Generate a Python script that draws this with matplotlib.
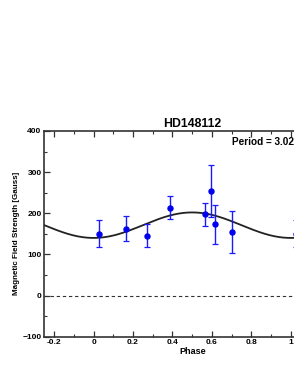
import numpy as np
import matplotlib
matplotlib.use("Agg")
import matplotlib.pyplot as plt
from matplotlib.ticker import MultipleLocator

plt.rcParams['font.family'] = ['Liberation Sans', 'DejaVu Sans']
plt.rcParams['font.weight'] = 'bold'

# Data
phase = [0.027, 0.164, 0.273, 0.386, 0.567, 0.597, 0.614, 0.700]
field = [149, 162, 144, 213, 197, 254, 173, 155]
err_up = [34, 31, 29, 29, 27, 64, 47, 50]
err_dn = [32, 30, 26, 27, 28, 63, 48, 51]

# Sinusoidal fit parameters
fit_mean = 171.0
fit_amp = 31.0
fit_phase0 = 0.0

title = "HD148112"
period_text = "Period = 3.02 d"

fig = plt.figure(figsize=(2.94, 3.81), dpi=100)
ax = fig.add_axes([0.1507, 0.1163, 1.006, 0.540])

spine_col = '#333333'
# model curve
xs = np.linspace(-0.25, 1.25, 400)
ys = fit_mean - fit_amp * np.cos(2 * np.pi * (xs - fit_phase0))
ax.plot(xs, ys, color='#222222', lw=1.3, zorder=2)

ax.axhline(0, color='#333333', lw=0.8, ls=(0, (3, 2.5)), zorder=1)

ph = np.array(phase)
fd = np.array(field)
eu = np.array(err_up)
ed = np.array(err_dn)
for shift in (0.0, 1.0):
    ax.errorbar(ph + shift, fd, yerr=[ed, eu], fmt='o', color='#0000ee',
                ecolor='#1a1aff', elinewidth=1.0, capsize=2.2, capthick=0.9,
                markersize=3.6, zorder=3)

ax.set_xlim(-0.25, 1.25)
ax.set_ylim(-100, 400)
ax.xaxis.set_major_locator(MultipleLocator(0.2))
ax.xaxis.set_minor_locator(MultipleLocator(0.1))
ax.yaxis.set_major_locator(MultipleLocator(100))
ax.yaxis.set_minor_locator(MultipleLocator(50))
ax.set_xticks([-0.2, 0, 0.2, 0.4, 0.6, 0.8, 1.0, 1.2])
ax.set_xticklabels(['-0.2', '0', '0.2', '0.4', '0.6', '0.8', '1', '1.2'])
ax.tick_params(which='both', direction='in', top=True, right=True,
               color=spine_col, labelsize=6.0, pad=2)
ax.tick_params(which='major', length=4, width=0.9)
ax.tick_params(which='minor', length=2.2, width=0.8)
for s in ax.spines.values():
    s.set_color(spine_col)
    s.set_linewidth(1.2)

ax.set_xlabel('Phase', fontsize=6.5, fontweight='bold', labelpad=0.5)
ax.set_ylabel('Magnetic Field Strength [Gauss]', fontsize=5.8,
              fontweight='bold', labelpad=2)
ax.set_title(title, fontsize=8.8, fontweight='bold', pad=3)
ax.text(0.634, 0.946, period_text, transform=ax.transAxes, ha='left',
        va='center', fontsize=7.2, fontweight='bold')

fig.savefig('out.png', dpi=100)
